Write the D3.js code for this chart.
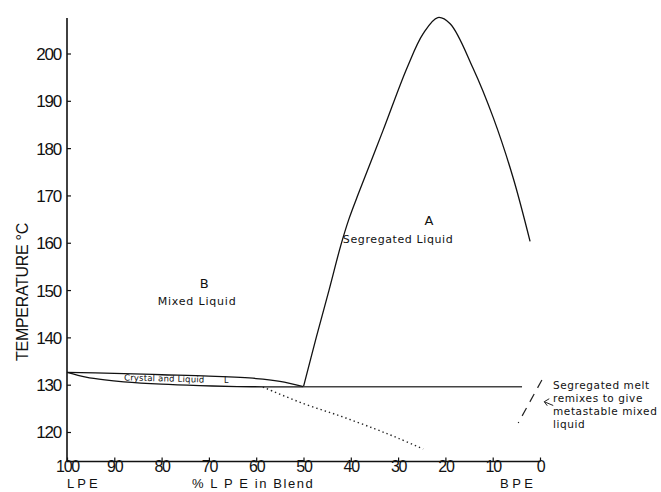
<!DOCTYPE html>
<html><head><meta charset="utf-8">
<script src="https://cdn.jsdelivr.net/npm/d3@7"></script>
<style>body{margin:0;background:#fff}svg{display:block}text{fill:#111}</style>
</head><body><svg id="c" width="661" height="492"></svg>
<script>
// x: % LPE in blend (100 -> 0), y: temperature °C
const xTicks = [100, 90, 80, 70, 60, 50, 40, 30, 20, 10, 0];
const yTicks = [120, 130, 140, 150, 160, 170, 180, 190, 200];
// binodal (segregated liquid boundary)
const binodal = [
  [50, 129.6], [47.3, 140], [44.6, 150], [42.1, 159.5], [40.4, 165], [38.3, 170.6],
  [33.2, 183.7], [28.1, 197], [24.7, 204.2], [21.6, 207.6], [19.0, 206.3],
  [14.2, 197], [9.9, 186.5], [5.7, 173.8], [2.1, 160.3]
];
// liquidus (upper boundary of crystal + liquid)
const liquidus = [[100, 132.6], [90, 132.4], [80, 132.1], [70, 131.8], [60, 131.3], [55, 130.7], [50, 129.6]];
// solidus (lower boundary of crystal + liquid)
const solidus = [[100, 132.6], [96, 131.6], [92, 131.0], [88, 130.6], [80, 130.1], [72, 129.8], [64, 129.6], [58, 129.55], [50, 129.55]];
// horizontal three-phase line
const flatLine = [[50, 129.55], [3.8, 129.55]];
// metastable extension (dotted)
const dotted = [[58.6, 129.5], [50, 126.0], [42, 123.3], [35, 120.7], [30, 118.7], [24.7, 116.4]];
// remixing path (dashed)
const dashed = [[-0.4, 131.0], [4.6, 121.9]];

const svg = d3.select("#c");
const x = d3.scaleLinear().domain([100, 0]).range([67, 540]);
const y = d3.scaleLinear().domain([120, 200]).range([432, 53.5]);
const yMin = y.invert(461.5), yMax = y.invert(18);

// axes
const font = "'Liberation Sans', Arial, sans-serif";
const yAxis = d3.axisRight(y).tickValues(yTicks).tickSize(4).tickFormat(d3.format("d"));
const gy = svg.append("g").attr("transform", `translate(${x(100)},0)`).call(yAxis);
gy.select(".domain").remove();
gy.selectAll("text").attr("x", -6).attr("text-anchor", "end").attr("dy", "0.35em")
  .style("font-family", font).style("font-size", "17px").attr("letter-spacing", "-1.2");
svg.append("line").attr("x1", x(100)).attr("x2", x(100)).attr("y1", y(yMax)).attr("y2", y(yMin))
  .attr("stroke", "#111").attr("stroke-width", 1.6);

const xAxis = d3.axisTop(x).tickValues(xTicks).tickSize(4).tickFormat(d3.format("d"));
const gx = svg.append("g").attr("transform", `translate(0,${y(yMin)})`).call(xAxis);
gx.select(".domain").remove();
gx.selectAll("text").attr("y", -1).attr("dy", "0.71em")
  .style("font-family", font).style("font-size", "16px").attr("letter-spacing", "-1.2");
svg.append("line").attr("x1", x(100)).attr("x2", x(0)).attr("y1", y(yMin)).attr("y2", y(yMin))
  .attr("stroke", "#111").attr("stroke-width", 1.6);
svg.selectAll(".tick line").attr("stroke", "#111").attr("stroke-width", 1.2);

// curves
const line = d3.line().x(d => x(d[0])).y(d => y(d[1]));
const smooth = d3.line().x(d => x(d[0])).y(d => y(d[1])).curve(d3.curveCatmullRom.alpha(0.5));
svg.append("path").attr("d", smooth(binodal)).attr("fill", "none").attr("stroke", "#111").attr("stroke-width", 1.3);
svg.append("path").attr("d", smooth(liquidus)).attr("fill", "none").attr("stroke", "#111").attr("stroke-width", 1.3);
svg.append("path").attr("d", smooth(solidus)).attr("fill", "none").attr("stroke", "#111").attr("stroke-width", 1.3);
svg.append("path").attr("d", line(flatLine)).attr("fill", "none").attr("stroke", "#444").attr("stroke-width", 1.6);
svg.append("path").attr("d", smooth(dotted)).attr("fill", "none").attr("stroke", "#222").attr("stroke-width", 1.4)
  .attr("stroke-dasharray", "1.4,3");
svg.append("path").attr("d", line(dashed)).attr("fill", "none").attr("stroke", "#222").attr("stroke-width", 1.2)
  .attr("stroke-dasharray", "9,7");

// arrow
svg.append("path").attr("d", `M${x(-2.8)},${y(125.6)} L${x(-0.9)},${y(126.4)}`).attr("stroke", "#222").attr("stroke-width", 1).attr("fill", "none");
svg.append("path").attr("d", `M${x(-0.9) + 5},${y(126.4) - 3} L${x(-0.9)},${y(126.4)} L${x(-0.9) + 3},${y(126.4) + 4}`)
  .attr("stroke", "#222").attr("stroke-width", 1).attr("fill", "none");

// labels
const lab = "'DejaVu Sans', 'Liberation Sans', sans-serif";
function t(txt, px, py, size, anchor, ls) {
  return svg.append("text").attr("x", px).attr("y", py).attr("text-anchor", anchor || "start")
    .style("font-family", lab).style("font-size", size + "px").attr("letter-spacing", ls || 0).text(txt);
}
t("A", x(23.5), y(163.7), 13, "middle");
t("Segregated  Liquid", x(30), y(160), 11, "middle", 0.6);
t("B", x(71), y(150.4), 13, "middle");
t("Mixed  Liquid", x(72.5), y(146.8), 11, "middle", 0.8);
t("Crystal  and  Liquid", 124, y(130.9), 8.5, "start", 0.2).attr("transform", `rotate(1.5,124,${y(130.9)})`);
t("L", 224, y(130.4), 8, "start");
t("Segregated melt", 553, 389, 10.5, "start", 0.6);
t("remixes to give", 553, 402, 10.5, "start", 0.6);
t("metastable mixed", 553, 415, 10.5, "start", 0.6);
t("liquid", 553, 428, 10.5, "start", 0.6);

svg.append("text").attr("transform", "translate(28,292) rotate(-90)").attr("text-anchor", "middle")
  .style("font-family", font).style("font-size", "16px").attr("letter-spacing", "-0.3").text("TEMPERATURE °C");

svg.append("text").attr("x", 67).attr("y", 488).style("font-family", font).style("font-size", "13px").attr("letter-spacing", "3").text("LPE");
svg.append("text").attr("x", 192).attr("y", 488).style("font-family", font).style("font-size", "13px").attr("letter-spacing", "1.6").text("% L P E  in  Blend");
svg.append("text").attr("x", 500).attr("y", 488).style("font-family", font).style("font-size", "13px").attr("letter-spacing", "3.5").text("BPE");
</script></body></html>
